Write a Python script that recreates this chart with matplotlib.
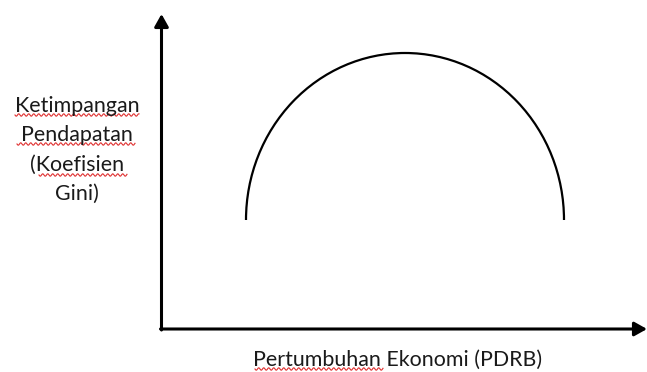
import numpy as np
import matplotlib
matplotlib.use("Agg")
import matplotlib.pyplot as plt
from matplotlib.patches import Arc

# --- 数据（像素坐标，原图 647x372）
y_label_lines = ["Ketimpangan", "Pendapatan", "(Koefisien", "Gini)"]
y_label_baselines = [112, 141, 171, 200]
x_label = "Pertumbuhan Ekonomi (PDRB)"
x_label_baseline = 366

# 拱形曲线：中心、宽、高
arc_center = (405, 220)
arc_width = 318
arc_height = 334

# 坐标轴
origin = (161.5, 329)
y_axis_top = 14
x_axis_right = 647

# 红色波浪下划线 (x0, x1, y)
squiggles = [(15, 139, 115), (17, 135, 144), (39, 127, 175), (255, 383, 369)]

fig = plt.figure(figsize=(6.47, 3.72), dpi=100)
ax = fig.add_axes([0, 0, 1, 1])
ax.set_xlim(0, 647)
ax.set_ylim(372, 0)
ax.axis('off')

font = dict(family='Lato', fontsize=15.4, color='#1a1a1a')

# 坐标轴箭头
astyle = '-|>,head_length=0.75,head_width=0.42'
ax.annotate('', xy=(origin[0], y_axis_top), xytext=(origin[0], origin[1] + 1),
            arrowprops=dict(arrowstyle=astyle, lw=2.2, color='black',
                            shrinkA=0, shrinkB=0))
ax.annotate('', xy=(x_axis_right, origin[1]), xytext=(origin[0] - 1, origin[1]),
            arrowprops=dict(arrowstyle=astyle, lw=2.2, color='black',
                            shrinkA=0, shrinkB=0))

# 拱形
ax.add_patch(Arc(arc_center, arc_width, arc_height, theta1=180, theta2=360,
                 lw=1.6, color='black'))

# 文字
for txt, y in zip(y_label_lines, y_label_baselines):
    ax.text(77, y, txt, ha='center', va='baseline', **font)
ax.text(398, x_label_baseline, x_label, ha='center', va='baseline', **font)

# 拼写检查的红色波浪线
for x0, x1, y in squiggles:
    xs = np.linspace(x0, x1, int((x1 - x0) * 2))
    ax.plot(xs, y + 1.2 * np.sin((xs - x0) * np.pi / 2.5), color='#e03030', lw=0.8)

fig.savefig('out.png', dpi=100)
